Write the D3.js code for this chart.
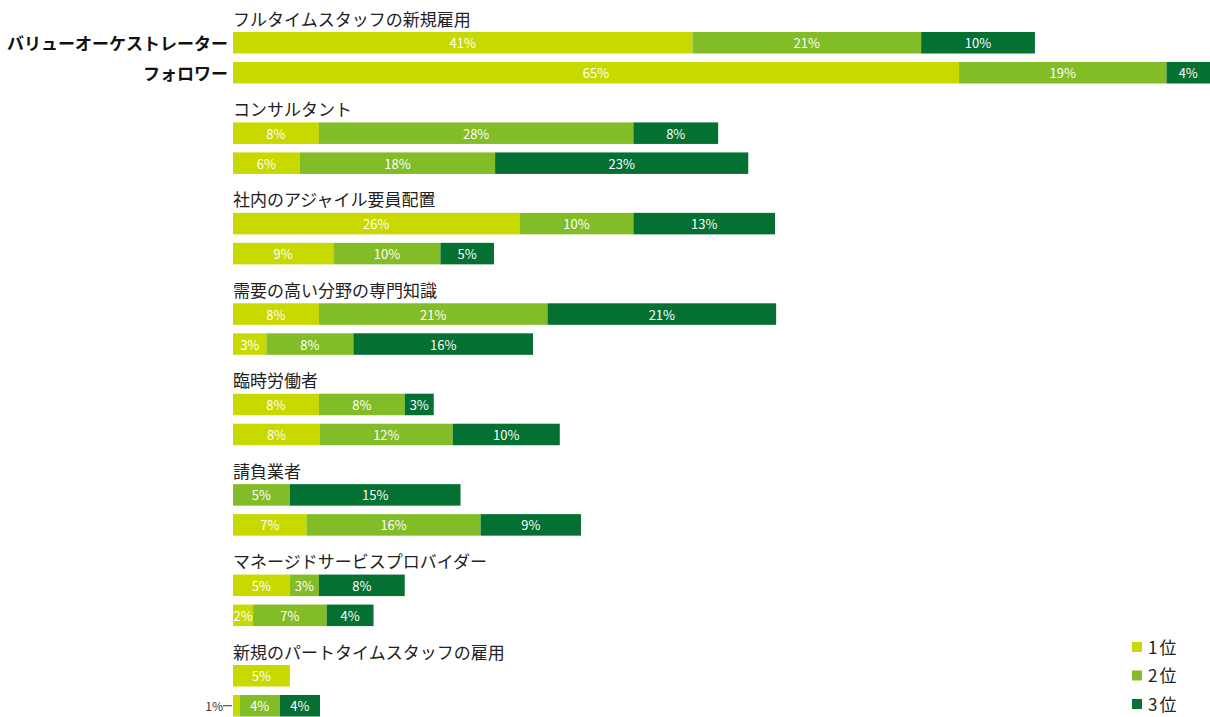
<!DOCTYPE html>
<html>
<head>
<meta charset="utf-8">
<script src="https://cdn.jsdelivr.net/npm/d3@7"></script>
<style>
  html, body { margin: 0; padding: 0; background: #fff; }
  svg { display: block; font-family: "Noto Sans CJK JP", "Noto Sans", sans-serif; }
</style>
</head>
<body>
<div id="chart"></div>
<script>
/* ── data ─────────────────────────────────────────────── */
const categories = [
  'フルタイムスタッフの新規雇用',
  'コンサルタント',
  '社内のアジャイル要員配置',
  '需要の高い分野の専門知識',
  '臨時労働者',
  '請負業者',
  'マネージドサービスプロバイダー',
  '新規のパートタイムスタッフの雇用'
];
const groups = ['バリューオーケストレーター', 'フォロワー'];
const ranks = ['1位', '2位', '3位'];

/* share (%) per category, [orchestrator, follower] */
const rank1 = [[41.2, 65.1], [7.7, 6.0], [25.7, 9.0], [7.7, 3.0], [7.7, 7.8], [0, 6.6], [5.1, 1.8], [5.1, 0.6]];
const rank2 = [[20.5, 18.6], [28.2, 17.5], [10.2, 9.6], [20.5, 7.8], [7.7, 11.9], [5.1, 15.6], [2.6, 6.6], [0, 3.6]];
const rank3 = [[10.2, 3.9], [7.6, 22.7], [12.7, 4.8], [20.5, 16.1], [2.6, 9.6], [15.3, 9.0], [7.7, 4.2], [0, 3.6]];

const colors = ['#c8d900', '#82bc26', '#047032'];

/* ── layout ───────────────────────────────────────────── */
const W = 1210, H = 717;
const svg = d3.select('#chart').append('svg')
  .attr('width', W).attr('height', H);

const x = d3.scaleLinear().domain([0, 87.6]).range([233, 1210]);
const yCat = d3.scaleBand().domain(categories).range([0, 8 * 90.43]);
const yGrp = d3.scaleBand().domain(groups).range([32, 83.5]).paddingInner(0.283);

/* flatten into rows */
const rows = [];
categories.forEach((c, i) => {
  groups.forEach((g, j) => {
    const vals = [rank1[i][j], rank2[i][j], rank3[i][j]];
    let acc = 0;
    vals.forEach((v, k) => {
      rows.push({ cat: c, grp: g, rank: k, v, x0: acc, x1: acc + v });
      acc += v;
    });
  });
});

const cat = svg.selectAll('g.cat').data(categories).join('g')
  .attr('class', 'cat')
  .attr('transform', d => `translate(0,${yCat(d)})`);

cat.append('text')
  .attr('x', 233).attr('y', 18)
  .attr('dominant-baseline', 'central')
  .attr('font-size', 17).attr('fill', '#222')
  .text(d => d);

/* segments */
const segs = svg.selectAll('g.seg').data(rows.filter(d => d.v > 0)).join('g')
  .attr('class', 'seg')
  .attr('transform', d => `translate(0,${yCat(d.cat) + yGrp(d.grp)})`);

segs.append('rect')
  .attr('x', d => x(d.x0))
  .attr('width', d => x(d.x1) - x(d.x0))
  .attr('height', yGrp.bandwidth())
  .attr('fill', d => colors[d.rank]);

/* labels: inside unless too narrow */
const inside = d => x(d.x1) - x(d.x0) >= 18;
segs.filter(inside).append('text')
  .attr('x', d => (x(d.x0) + x(d.x1)) / 2)
  .attr('y', yGrp.bandwidth() / 2)
  .attr('dominant-baseline', 'central')
  .attr('text-anchor', 'middle')
  .attr('font-size', 13).attr('fill', '#fff')
  .text(d => Math.round(d.v) + '%');

const outside = segs.filter(d => !inside(d));
outside.append('line')
  .attr('x1', d => x(d.x0) - 10).attr('x2', d => x(d.x0) - 1)
  .attr('y1', yGrp.bandwidth() / 2).attr('y2', yGrp.bandwidth() / 2)
  .attr('stroke', '#333').attr('stroke-width', 1);
outside.append('text')
  .attr('x', d => x(d.x0) - 10)
  .attr('y', yGrp.bandwidth() / 2)
  .attr('dominant-baseline', 'central')
  .attr('text-anchor', 'end')
  .attr('font-size', 12).attr('fill', '#333')
  .text(d => Math.round(d.v) + '%');

/* group labels (first category only) */
svg.selectAll('text.grp').data(groups).join('text')
  .attr('class', 'grp')
  .attr('x', 228)
  .attr('y', d => yCat(categories[0]) + yGrp(d) + yGrp.bandwidth() / 2)
  .attr('dominant-baseline', 'central')
  .attr('text-anchor', 'end')
  .attr('font-size', 17).attr('font-weight', 'bold').attr('fill', '#111')
  .text(d => d);

/* legend */
const leg = svg.append('g').attr('transform', 'translate(1132,647)');
const li = leg.selectAll('g').data(ranks).join('g')
  .attr('transform', (d, i) => `translate(0,${i * 28.5})`);
li.append('rect').attr('y', -5).attr('width', 10).attr('height', 10)
  .attr('fill', (d, i) => colors[i]);
li.append('text').attr('x', 16).attr('y', -1)
  .attr('dominant-baseline', 'central')
  .attr('font-size', 17).attr('letter-spacing', 2).attr('fill', '#222')
  .text(d => d);
</script>
</body>
</html>
